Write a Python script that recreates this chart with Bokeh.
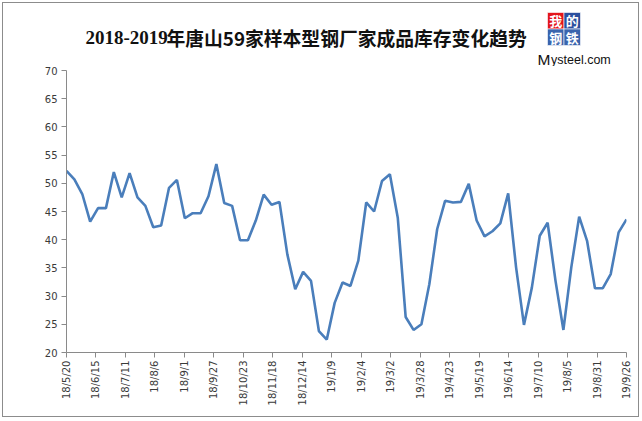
import numpy as np
from datetime import datetime
from bokeh.plotting import figure
from bokeh.layouts import column
from bokeh.models import Range1d, FixedTicker
from bokeh.core.properties import value
from bokeh.embed import file_html
from bokeh.resources import INLINE

title_text = "2018-2019年唐山59家样本型钢厂家成品库存变化趋势"
tick_labels = ["18/5/20", "18/6/15", "18/7/11", "18/8/6", "18/9/1", "18/9/27",
               "18/10/23", "18/11/18", "18/12/14", "19/1/9", "19/2/4", "19/3/2",
               "19/3/28", "19/4/23", "19/5/19", "19/6/14", "19/7/10", "19/8/5",
               "19/8/31", "19/9/26"]
y_ticks = [20, 25, 30, 35, 40, 45, 50, 55, 60, 65, 70]
inventory = [52.2, 50.7, 48.1, 43.2, 45.6, 45.6, 52.0, 47.5, 51.8, 47.5,
             46.0, 42.2, 42.5, 49.2, 50.6, 43.8, 44.7, 44.7, 47.7, 53.4,
             46.5, 46.0, 39.9, 39.9, 43.4, 48.0, 46.2, 46.7, 37.4, 31.2,
             34.3, 32.7, 23.8, 22.3, 28.8, 32.4, 31.8, 36.3, 46.6, 45.0,
             50.4, 51.6, 43.9, 26.3, 24.0, 25.0, 32.1, 41.9, 46.9, 46.6,
             46.7, 49.9, 43.4, 40.6, 41.5, 42.9, 48.2, 35.1, 24.9, 31.5,
             40.7, 43.0, 32.7, 24.0, 35.1, 44.1, 39.8, 31.4, 31.4, 33.9,
             41.3, 43.6]
logo_chars = ["我", "的", "钢", "铁"]
logo_colors = ["#e3151b", "#2b4f9e", "#3a64ad", "#3a64ad"]

tick_dates = [datetime.strptime(s, "%y/%m/%d") for s in tick_labels]
tick_days = [(d - tick_dates[0]).days for d in tick_dates]
# sample dates spread across the labelled span (roughly weekly)
x_days = np.linspace(0, tick_days[-1], len(inventory))

W = 635
BL, BR = 63, 12          # left / right borders shared by both stacked figures
# ---- header strip: title and logo (coordinates ~ page pixels, y downward)
head = figure(width=W, height=63, output_backend="svg", toolbar_location=None,
              x_range=Range1d(3 + BL, 3 + W - BR), y_range=Range1d(63, 0),
              x_axis_location=None, y_axis_location=None, min_border=0,
              min_border_left=BL, min_border_right=BR,
              outline_line_color=None, background_fill_color="white",
              border_fill_color="white")
head.xgrid.grid_line_color = None
head.ygrid.grid_line_color = None
title_a, title_b = title_text[:9], title_text[9:]
head.text(x=[85], y=[34], text=[title_a], text_font=value("Liberation Serif"),
          text_font_style="bold", text_font_size=value("19px"),
          text_color="#111111", text_align="left", text_baseline="middle")
head.text(x=[166], y=[34], text=[title_b], text_font=value("Noto Sans CJK SC"),
          text_font_style="bold", text_font_size=value("18.8px"),
          text_color="#111111", text_align="left", text_baseline="middle")
cell = 16.5
cx = [547 + cell / 2 + (i % 2) * cell for i in range(4)]
cy = [9 + cell / 2 + (i // 2) * cell for i in range(4)]
head.rect(x=cx, y=cy, width=cell, height=cell, fill_color=logo_colors,
          line_color="white", line_width=0.6)
head.text(x=cx, y=cy, text=logo_chars, text_font=value("Noto Sans CJK SC"),
          text_font_style="bold", text_font_size=value("13px"),
          text_color="white", text_align="center", text_baseline="middle")
head.text(x=[537], y=[56], text=["M"], text_font=value("Liberation Sans"),
          text_font_size=value("15.5px"), text_color="#111111",
          text_baseline="alphabetic")
head.text(x=[550.5], y=[56], text=["ysteel.com"],
          text_font=value("Liberation Sans"), text_font_size=value("12.5px"),
          text_color="#111111", text_baseline="alphabetic")

# ---- main chart
p = figure(width=W, height=350, output_backend="svg", toolbar_location=None,
           x_range=Range1d(0, tick_days[-1]), y_range=Range1d(20, 70),
           min_border_left=BL, min_border_right=BR, min_border_top=4,
           min_border_bottom=64, background_fill_color="white",
           border_fill_color="white")
p.outline_line_color = None
p.xgrid.grid_line_color = None
p.ygrid.grid_line_color = None

p.line(x_days, inventory, line_color="#4a7ebb", line_width=2.6)

for ax in (p.xaxis[0], p.yaxis[0]):
    ax.axis_line_color = "#8a8a8a"
    ax.major_tick_line_color = "#8a8a8a"
    ax.major_tick_in = 0
    ax.major_tick_out = 5
    ax.minor_tick_line_color = None
    ax.major_label_text_font = "DejaVu Sans"
    ax.major_label_text_font_size = "10px"
    ax.major_label_text_color = "#3a3a3a"

p.yaxis.ticker = FixedTicker(ticks=y_ticks)
p.yaxis.major_label_standoff = 4
p.xaxis.ticker = FixedTicker(ticks=tick_days)
p.xaxis.major_label_overrides = {d: s for d, s in zip(tick_days, tick_labels)}
p.xaxis.major_label_orientation = np.pi / 2
p.xaxis.major_label_standoff = 3

layout = column(head, p, spacing=0,
                styles={"border": "1px solid #8c8c8c", "margin-left": "2px",
                        "margin-top": "2px", "background-color": "white"})

open("out.html", "w").write(file_html(layout, INLINE))
